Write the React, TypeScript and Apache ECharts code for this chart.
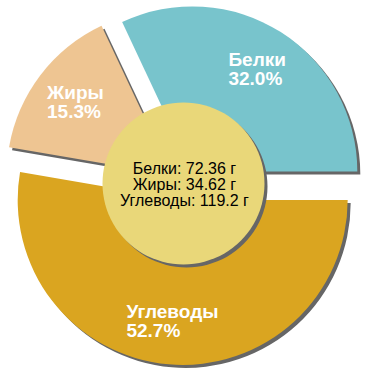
import React, { useEffect, useRef } from 'react';
import * as echarts from 'echarts';

const categories = ['Белки', 'Жиры', 'Углеводы'];
const grams = [72.36, 34.62, 119.2];
const percents = [32.0, 15.3, 52.7];
const colors = ['#78C4CC', '#EEC592', '#DAA520'];

const CX = 184;
const CY = 184.5;
const R = 165;
const OFFSET = 15.5;
const FONT = '"Liberation Sans", Arial, sans-serif';

export default function App() {
  const ref = useRef<HTMLDivElement>(null);
  useEffect(() => {
    const chart = echarts.init(ref.current!, null, { renderer: 'svg' });
    const data = categories.map((name, i) => ({ name, value: grams[i], selected: true }));
    const base: any = {
      type: 'pie',
      startAngle: 0,
      clockwise: false,
      selectedMode: 'multiple',
      selectedOffset: OFFSET,
      avoidLabelOverlap: false,
      silent: true,
      emphasis: { disabled: true },
      labelLine: { show: false },
    };
    const centerLines = categories.map((c, i) => `${c}: ${grams[i]} г`);
    chart.setOption({
      animation: false,
      series: [
        {
          ...base,
          z: 1,
          center: [CX + 3, CY + 3],
          radius: R,
          data,
          itemStyle: { color: '#666666' },
          label: { show: false },
        },
        {
          ...base,
          z: 2,
          center: [CX, CY],
          radius: R,
          data: data.map((d, i) => ({ ...d, itemStyle: { color: colors[i] } })),
          label: { show: false },
        },
        {
          ...base,
          z: 3,
          center: [CX, CY],
          radius: [71, R],
          data,
          itemStyle: { color: 'rgba(0,0,0,0)' },
          label: {
            show: true,
            position: 'inside',
            formatter: (p: any) => `{a|${p.name}}\n{a|${percents[p.dataIndex].toFixed(1)}%}`,
            rich: {
              a: {
                align: 'left',
                color: '#ffffff',
                fontFamily: FONT,
                fontWeight: 'bold',
                fontSize: 19,
                lineHeight: 19,
              },
            },
          },
        },
      ],
      graphic: [
        {
          type: 'circle',
          z: 10,
          silent: true,
          shape: { cx: CX + 2.5, cy: CY + 2, r: 81 },
          style: { fill: '#666666' },
        },
        {
          type: 'circle',
          z: 11,
          silent: true,
          shape: { cx: CX - 0.5, cy: CY - 1, r: 81 },
          style: { fill: '#E9D779' },
        },
        {
          type: 'text',
          z: 12,
          silent: true,
          x: CX + 0.5,
          y: CY,
          style: {
            text: centerLines.join('\n'),
            align: 'center',
            verticalAlign: 'middle',
            fontFamily: FONT,
            fontSize: 16,
            lineHeight: 16,
            fill: '#000000',
          },
        },
      ],
    });
    return () => chart.dispose();
  }, []);
  return (
    <div
      ref={ref}
      style={{ position: 'absolute', left: 0, top: 0, width: 370, height: 370 }}
    />
  );
}
